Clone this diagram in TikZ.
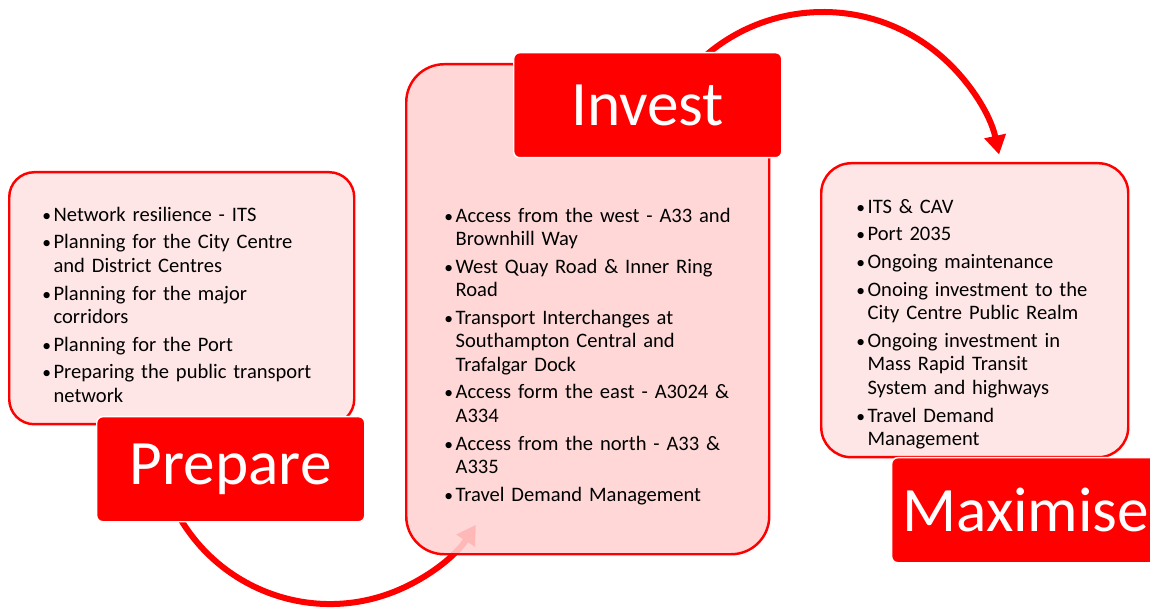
\documentclass[tikz,border=0pt]{standalone}
\usepackage{fontspec}
\setmainfont{Carlito}
\usetikzlibrary{arrows.meta,calc}
\definecolor{brand}{HTML}{FF0000}
\definecolor{blush}{HTML}{FFE6E6}
\definecolor{rose}{HTML}{FFD2D2}

\newcommand{\listfont}{\fontsize{11.7}{13.3}\selectfont\setlength{\parskip}{2.5pt}\raggedright}
\newcommand{\bitem}[1]{\par\hangindent=6.4pt\hangafter=1\noindent\makebox[6.4pt][l]{\fontsize{10}{10}\selectfont\textbullet}#1\par}

\tikzset{
  panel/.style={draw=brand,line width=1.4pt,anchor=north west,inner sep=0pt},
  tag/.style={draw=white,line width=0.8pt,fill=brand,text=white,rounded corners=0.12cm,
    anchor=north west,minimum width=5.36cm,minimum height=2.1cm,inner sep=0pt,
    font=\fontsize{36}{40}\selectfont},
  points/.style={anchor=north west,inner sep=0pt,text width=6.4cm,font=\listfont},
  loop/.style={draw=brand,line width=0.12cm,-{Triangle[length=0.38cm,width=0.42cm]}}
}

\begin{document}
\begin{tikzpicture}[x=1cm,y=1cm]
  \useasboundingbox (0,0) rectangle (23,-12.16);
  \clip (0,0) rectangle (23,-12.16);

  \coordinate (c1) at (6.6,-8.6);
  \coordinate (c2) at (16.46,-3.84);

  % arrows first, the boxes sit over them
  \draw[loop] ($(c1)+(200:3.48)$) arc[start angle=200,end angle=327,radius=3.48];
  \draw[loop] ($(c2)+(140:3.6)$) arc[start angle=140,end angle=12,radius=3.6];

  % prepare
  \node[panel,fill=blush,rounded corners=0.5cm,minimum width=6.9cm,minimum height=5.04cm] (prepbox) at (0.16,-3.42) {};
  \node[points] (preplist) at (0.84,-3.86) {%
    \bitem{Network resilience - ITS}%
    \bitem{Planning for the City Centre\newline and District Centres}%
    \bitem{Planning for the major\newline corridors}%
    \bitem{Planning for the Port}%
    \bitem{Preparing the public transport\newline network}%
  };
  \node[tag] (preptag) at (1.92,-8.32) {Prepare};

  % invest
  \node[panel,fill=rose,fill opacity=0.88,rounded corners=0.76cm,minimum width=7.26cm,minimum height=9.8cm] (invbox) at (8.1,-1.26) {};
  \node[points] (invlist) at (8.88,-3.88) {%
    \bitem{Access from the west - A33 and\newline Brownhill Way}%
    \bitem{West Quay Road \& Inner Ring\newline Road}%
    \bitem{Transport Interchanges at\newline Southampton Central and\newline Trafalgar Dock}%
    \bitem{Access form the east - A3024 \&\newline A334}%
    \bitem{Access from the north - A33 \&\newline A335}%
    \bitem{Travel Demand Management}%
  };
  \node[tag] (invtag) at (10.26,-1.04) {Invest};

  % maximise
  \node[panel,fill=blush,rounded corners=0.6cm,minimum width=6.14cm,minimum height=5.88cm] (maxbox) at (16.4,-3.24) {};
  \node[points] (maxlist) at (17.12,-3.7) {%
    \bitem{ITS \& CAV}%
    \bitem{Port 2035}%
    \bitem{Ongoing maintenance}%
    \bitem{Onoing investment to the\newline City Centre Public Realm}%
    \bitem{Ongoing investment in\newline Mass Rapid Transit\newline System and highways}%
    \bitem{Travel Demand\newline Management}%
  };
  \node[tag] (maxtag) at (17.82,-9.14) {Maximise};
\end{tikzpicture}
\end{document}
